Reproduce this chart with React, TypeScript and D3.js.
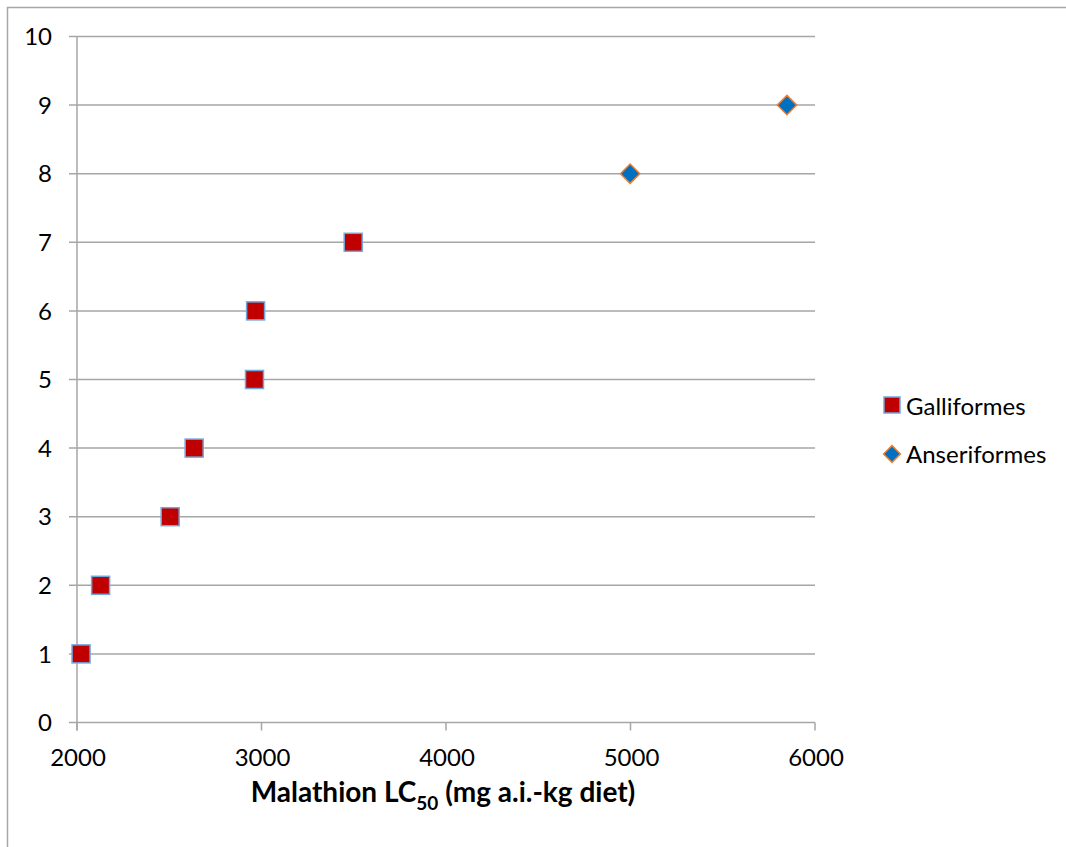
import React, { useEffect, useRef } from 'react';
import * as d3 from 'd3';

// Galliformes (red squares)
const galliX = [2022, 2128, 2505, 2635, 2962, 2968, 3497];
const galliY = [1, 2, 3, 4, 5, 6, 7];
// Anseriformes (blue diamonds)
const anserX = [4998, 5848];
const anserY = [8, 9];

const xTicks = [2000, 3000, 4000, 5000, 6000];
const yTicks = [0, 1, 2, 3, 4, 5, 6, 7, 8, 9, 10];
const legendLabels = ['Galliformes', 'Anseriformes'];

const W = 1066, H = 847;
const font = 'Lato, "Liberation Sans", Arial, sans-serif';

export default function App() {
  const ref = useRef<SVGSVGElement>(null);

  useEffect(() => {
    const svg = d3.select(ref.current);
    svg.selectAll('*').remove();

    const x = d3.scaleLinear().domain([2000, 6000]).range([77, 815]);
    const y = d3.scaleLinear().domain([0, 10]).range([722.5, 36.5]);

    // outer chart border (cut off at right/bottom)
    svg.append('rect')
      .attr('x', 7.5).attr('y', 7.5)
      .attr('width', W + 10).attr('height', H + 10)
      .attr('fill', 'white').attr('stroke', '#a6a6a6').attr('stroke-width', 1.5);

    // horizontal gridlines + y ticks
    svg.append('g').selectAll('line')
      .data(yTicks)
      .enter().append('line')
      .attr('x1', 69).attr('x2', x(6000))
      .attr('y1', d => y(d)).attr('y2', d => y(d))
      .attr('stroke', '#a6a6a6').attr('stroke-width', 1.5);

    // y axis line
    svg.append('line')
      .attr('x1', x(2000)).attr('x2', x(2000))
      .attr('y1', y(10)).attr('y2', y(0) + 8)
      .attr('stroke', '#a6a6a6').attr('stroke-width', 1.5);

    // x ticks
    svg.append('g').selectAll('line')
      .data(xTicks)
      .enter().append('line')
      .attr('x1', d => x(d)).attr('x2', d => x(d))
      .attr('y1', y(0)).attr('y2', y(0) + 8)
      .attr('stroke', '#a6a6a6').attr('stroke-width', 1.5);

    svg.append('g').selectAll('text')
      .data(yTicks)
      .enter().append('text')
      .attr('x', 52).attr('y', d => y(d))
      .attr('dy', '0.36em')
      .attr('text-anchor', 'end')
      .attr('font-family', font).attr('font-size', 24)
      .text(d => d);

    svg.append('g').selectAll('text')
      .data(xTicks)
      .enter().append('text')
      .attr('x', d => x(d) + 1).attr('y', 766)
      .attr('text-anchor', 'middle')
      .attr('font-family', font).attr('font-size', 24)
      .text(d => d);

    // x axis title
    const title = svg.append('text')
      .attr('x', 443).attr('y', 802)
      .attr('text-anchor', 'middle')
      .attr('font-family', font).attr('font-size', 28).attr('font-weight', 'bold');
    title.append('tspan').text('Malathion LC');
    title.append('tspan').attr('font-size', 19).attr('dy', 8).text('50');
    title.append('tspan').attr('dy', -8).text(' (mg a.i.-kg diet)');

    const galli = galliX.map((v, i) => ({ x: v, y: galliY[i] }));
    const anser = anserX.map((v, i) => ({ x: v, y: anserY[i] }));

    svg.append('g').selectAll('rect')
      .data(galli)
      .enter().append('rect')
      .attr('x', d => x(d.x) - 9).attr('y', d => y(d.y) - 9)
      .attr('width', 18).attr('height', 18)
      .attr('fill', '#c00000').attr('stroke', '#6fa8dc').attr('stroke-width', 1.5);

    const diamond = d3.symbol().type(d3.symbolDiamond2).size(240);
    svg.append('g').selectAll('path')
      .data(anser)
      .enter().append('path')
      .attr('d', diamond)
      .attr('transform', d => `translate(${x(d.x)},${y(d.y)})`)
      .attr('fill', '#0070c0').attr('stroke', '#ed7d31').attr('stroke-width', 1.5);

    // legend
    const lg = svg.append('g');
    lg.append('rect')
      .attr('x', 884).attr('y', 397).attr('width', 16).attr('height', 16)
      .attr('fill', '#c00000').attr('stroke', '#6fa8dc').attr('stroke-width', 1.5);
    lg.append('path')
      .attr('d', d3.symbol().type(d3.symbolDiamond2).size(180)())
      .attr('transform', 'translate(892,454)')
      .attr('fill', '#0070c0').attr('stroke', '#ed7d31').attr('stroke-width', 1.5);
    lg.selectAll('text')
      .data(legendLabels)
      .enter().append('text')
      .attr('x', 906).attr('y', (d, i) => 406 + i * 48)
      .attr('dy', '0.36em')
      .attr('font-family', font).attr('font-size', 24)
      .text(d => d);
  }, []);

  return (
    <div style={{ position: 'absolute', left: 0, top: 0 }}>
      <svg ref={ref} width={W} height={H} style={{ display: 'block' }} />
    </div>
  );
}
